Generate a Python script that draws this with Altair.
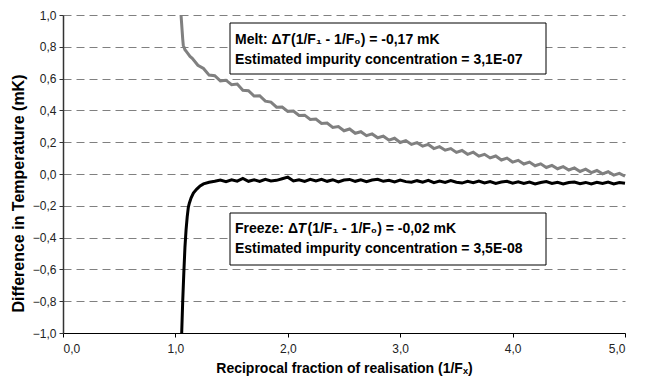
import altair as alt
import pandas as pd

# ---- data ----
melt_x = [1.050, 1.055, 1.060, 1.065, 1.070, 1.085, 1.100, 1.130, 1.150,
          1.20, 1.25, 1.30, 1.35, 1.40, 1.45, 1.50, 1.55, 1.60,
          1.65, 1.70, 1.75, 1.80, 1.85, 1.90, 1.95, 2.00, 2.05, 2.10,
          2.15, 2.20, 2.25, 2.30, 2.35, 2.40, 2.45, 2.50, 2.55, 2.60,
          2.65, 2.70, 2.75, 2.80, 2.85, 2.90, 2.95, 3.00, 3.05, 3.10,
          3.15, 3.20, 3.25, 3.30, 3.35, 3.40, 3.45, 3.50, 3.55, 3.60,
          3.65, 3.70, 3.75, 3.80, 3.85, 3.90, 3.95, 4.00, 4.05, 4.10,
          4.15, 4.20, 4.25, 4.30, 4.35, 4.40, 4.45, 4.50, 4.55, 4.60,
          4.65, 4.70, 4.75, 4.80, 4.85, 4.90, 4.95, 5.00]
melt_y = [1.000, 0.950, 0.900, 0.850, 0.810, 0.782, 0.768, 0.740, 0.728,
          0.684, 0.664, 0.622, 0.618, 0.586, 0.590, 0.562, 0.566, 0.527,
          0.524, 0.490, 0.492, 0.458, 0.452, 0.420, 0.421, 0.394, 0.396, 0.368,
          0.370, 0.343, 0.346, 0.318, 0.320, 0.293, 0.298, 0.272, 0.283, 0.256,
          0.266, 0.241, 0.252, 0.228, 0.238, 0.213, 0.225, 0.198, 0.210, 0.186,
          0.197, 0.175, 0.186, 0.160, 0.172, 0.150, 0.160, 0.136, 0.148, 0.124,
          0.137, 0.112, 0.124, 0.101, 0.113, 0.088, 0.100, 0.075, 0.086, 0.063,
          0.075, 0.052, 0.064, 0.041, 0.054, 0.033, 0.046, 0.025, 0.038, 0.016,
          0.030, 0.009, 0.022, 0.001, 0.014, -0.007, 0.004, -0.014]

freeze_x = [1.056, 1.065, 1.075, 1.085, 1.095, 1.105, 1.115, 1.124, 1.140, 1.160,
            1.190, 1.220, 1.250, 1.300, 1.350,
            1.40, 1.45, 1.50, 1.55, 1.60, 1.65, 1.70, 1.75, 1.80, 1.85,
            1.90, 1.95, 2.00, 2.05, 2.10, 2.15, 2.20, 2.25, 2.30, 2.35,
            2.40, 2.45, 2.50, 2.55, 2.60, 2.65, 2.70, 2.75, 2.80, 2.85,
            2.90, 2.95, 3.00, 3.05, 3.10, 3.15, 3.20, 3.25, 3.30, 3.35,
            3.40, 3.45, 3.50, 3.55, 3.60, 3.65, 3.70, 3.75, 3.80, 3.85,
            3.90, 3.95, 4.00, 4.05, 4.10, 4.15, 4.20, 4.25, 4.30, 4.35,
            4.40, 4.45, 4.50, 4.55, 4.60, 4.65, 4.70, 4.75, 4.80, 4.85,
            4.90, 4.95, 5.00]
freeze_y = [-1.000, -0.800, -0.620, -0.460, -0.350, -0.270, -0.210, -0.184, -0.150, -0.120,
            -0.095, -0.075, -0.062, -0.052, -0.046,
            -0.038, -0.048, -0.036, -0.045, -0.028, -0.046, -0.036, -0.047, -0.034, -0.044,
            -0.040, -0.030, -0.020, -0.044, -0.036, -0.047, -0.034, -0.043, -0.033, -0.046,
            -0.036, -0.050, -0.038, -0.034, -0.046, -0.037, -0.048, -0.038, -0.033, -0.046,
            -0.040, -0.050, -0.038, -0.048, -0.052, -0.042, -0.051, -0.040, -0.054, -0.045,
            -0.053, -0.042, -0.052, -0.057, -0.046, -0.055, -0.044, -0.056, -0.048, -0.059,
            -0.050, -0.046, -0.058, -0.049, -0.060, -0.051, -0.062, -0.053, -0.048, -0.060,
            -0.052, -0.062, -0.054, -0.050, -0.061, -0.053, -0.063, -0.052, -0.060, -0.051,
            -0.062, -0.053, -0.058]

melt_lines = ["Melt: Δ", "T", " (1/F₁ - 1/F₀) = -0,17 mK",
              "Estimated impurity concentration = 3,1E-07"]
freeze_lines = ["Freeze: Δ", "T", " (1/F₁ - 1/F₀) = -0,02 mK",
                "Estimated impurity concentration = 3,5E-08"]

y_ticks = [-1.0, -0.8, -0.6, -0.4, -0.2, 0.0, 0.2, 0.4, 0.6, 0.8, 1.0]
x_ticks = [0, 1, 2, 3, 4, 5]

y_title = "Difference in Temperature (mK)"
x_title = "Reciprocal fraction of realisation (1/Fₓ)"

FONT = "Liberation Sans"

melt = pd.DataFrame({"x": melt_x, "y": melt_y})
freeze = pd.DataFrame({"x": freeze_x, "y": freeze_y})

xscale = alt.Scale(domain=[0, 5], nice=False)
yscale = alt.Scale(domain=[-1, 1], nice=False)

comma = "replace(format(datum.value, '.1f'), '.', ',')"

xaxis = alt.Axis(values=x_ticks, grid=False, title=x_title, labelExpr=comma,
                 labelOverlap=False,
                 domainColor="#000000", tickColor="#000000", tickSize=4,
                 labelFont=FONT, labelFontSize=12, labelColor="#222222", labelPadding=6,
                 titleFont=FONT, titleFontSize=14, titleFontWeight="bold",
                 titleColor="#000000", titlePadding=7)
yaxis = alt.Axis(values=y_ticks, grid=True, gridDash=[8, 5], gridColor="#808080",
                 gridWidth=1, title=y_title, labelExpr=comma, labelOverlap=False,
                 labelFlush=False, labelBound=False,
                 domainColor="#333333", domainWidth=1.5, tickColor="#333333", tickSize=4,
                 labelFont=FONT, labelFontSize=12, labelColor="#222222", labelPadding=3,
                 titleFont=FONT, titleFontSize=16, titleFontWeight="bold",
                 titleColor="#000000", titleAngle=270, titleX=-45, titleY=178,
                 titleAlign="center", titleBaseline="middle")

melt_line = alt.Chart(melt).mark_line(color="#808080", strokeWidth=3).encode(
    x=alt.X("x:Q", scale=xscale, axis=xaxis),
    y=alt.Y("y:Q", scale=yscale, axis=yaxis),
)
freeze_line = alt.Chart(freeze).mark_line(color="#000000", strokeWidth=3).encode(
    x=alt.X("x:Q", scale=xscale, axis=xaxis),
    y=alt.Y("y:Q", scale=yscale, axis=yaxis),
)

one = pd.DataFrame({"k": [0]})


def box(x0, y0, x1, y1):
    return alt.Chart(one).mark_rect(fill="white", stroke="#000000", strokeWidth=1).encode(
        x=alt.value(x0), x2=alt.value(x1), y=alt.value(y0), y2=alt.value(y1))


def txt(s, x, y, italic=False):
    return alt.Chart(one).mark_text(
        text=s, align="left", baseline="middle", font=FONT, fontSize=14,
        fontWeight="bold", fontStyle="italic" if italic else "normal",
        color="#000000").encode(x=alt.value(x), y=alt.value(y))


# plot-area pixel offsets for annotations
BX0, BX1 = 167, 483
TX = 172
layers = [melt_line, freeze_line,
          box(BX0, 8, BX1, 59),
          txt(melt_lines[0], TX, 25), txt(melt_lines[1], TX + 46, 25, True),
          txt(melt_lines[2], TX + 56, 25), txt(melt_lines[3], TX, 45),
          box(BX0, 198, BX1, 250),
          txt(freeze_lines[0], TX, 214), txt(freeze_lines[1], TX + 62.5, 214, True),
          txt(freeze_lines[2], TX + 72.5, 214), txt(freeze_lines[3], TX, 234)]

chart = alt.layer(*layers).properties(
    width=562, height=318,
    autosize=alt.AutoSizeParams(type="none"),
    padding={"left": 63, "top": 15, "right": 20, "bottom": 50},
    background="white",
).configure_view(stroke=None).configure_axis(labelOverlap=False)

chart.save("out.html", embed_options={"renderer": "svg", "actions": False})
